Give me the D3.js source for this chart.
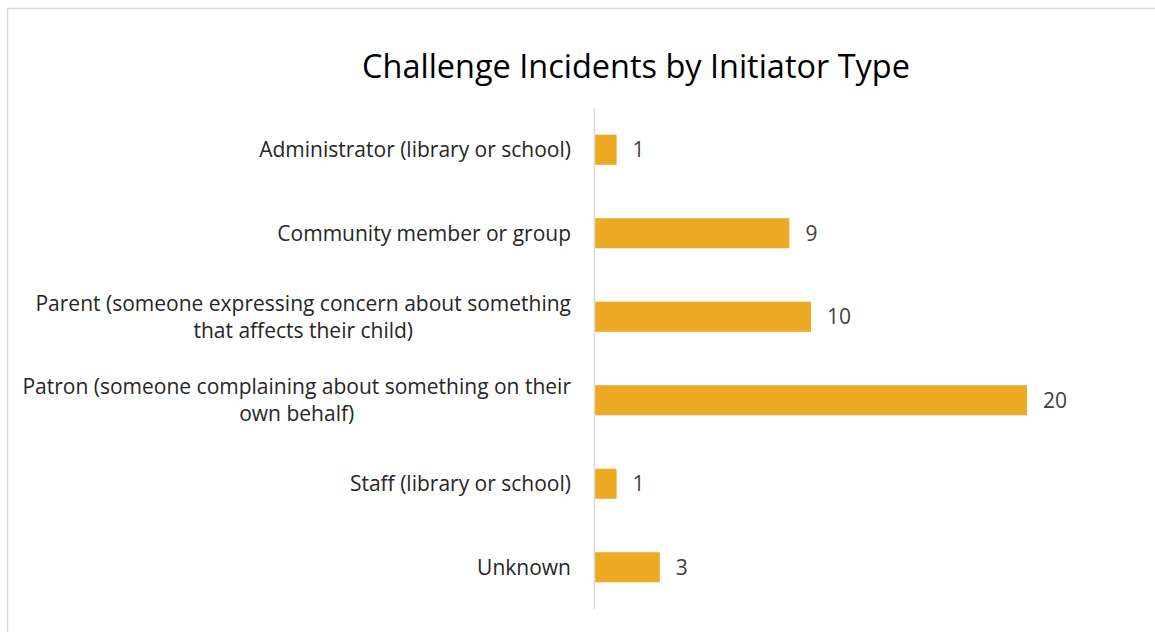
<!DOCTYPE html>
<html>
<head>
<meta charset="utf-8">
<script src="https://cdn.jsdelivr.net/npm/d3@7"></script>
<style>
  body { margin: 0; background: #fff; }
  svg { display: block; font-family: "Open Sans", "Noto Sans", sans-serif; }
</style>
</head>
<body>
<div id="chart"></div>
<script>
// chart data
const title = 'Challenge Incidents by Initiator Type';
const categories = [
  'Administrator (library or school)',
  'Community member or group',
  'Parent (someone expressing concern about something that affects their child)',
  'Patron (someone complaining about something on their own behalf)',
  'Staff (library or school)',
  'Unknown'
];
const counts = [1, 9, 10, 20, 1, 3];

const width = 1155;
const height = 632;
const margin = { top: 108, right: 128, bottom: 23, left: 595 };

const svg = d3.select('#chart').append('svg')
  .attr('width', width)
  .attr('height', height);

// pick a font size so a sample string comes out at the wanted width
function fitSize(str, target, base) {
  const t = svg.append('text').attr('font-size', base).text(str);
  const w = t.node().getComputedTextLength();
  t.remove();
  return base * target / w;
}
const labelSize = fitSize(categories[0], 312, 19);
const titleSize = fitSize(title, 548, 30);

// chart area outline (left + top edges visible)
svg.append('rect')
  .attr('x', 7.5)
  .attr('y', 8.5)
  .attr('width', width + 20)
  .attr('height', height + 20)
  .attr('fill', 'none')
  .attr('stroke', '#d9d9d9')
  .attr('stroke-width', 1.5);

svg.append('text')
  .attr('x', 636)
  .attr('y', 78)
  .attr('text-anchor', 'middle')
  .attr('font-size', titleSize)
  .attr('fill', '#000')
  .text(title);

const x = d3.scaleLinear()
  .domain([0, 20])
  .range([margin.left, width - margin.right]);

const y = d3.scaleBand()
  .domain(categories)
  .range([margin.top, height - margin.bottom])
  .paddingInner(0.64)
  .paddingOuter(0.32);

const g = svg.append('g');

g.selectAll('.bar')
  .data(categories)
  .enter()
  .append('rect')
  .attr('class', 'bar')
  .attr('x', x(0))
  .attr('y', d => y(d))
  .attr('width', (d, i) => x(counts[i]) - x(0))
  .attr('height', y.bandwidth())
  .attr('fill', '#ecaa24');

// vertical axis line
g.append('line')
  .attr('x1', x(0) - 0.5)
  .attr('x2', x(0) - 0.5)
  .attr('y1', margin.top)
  .attr('y2', height - margin.bottom)
  .attr('stroke', '#d9d9d9')
  .attr('stroke-width', 1.5);

// value labels
g.selectAll('.val')
  .data(categories)
  .enter()
  .append('text')
  .attr('class', 'val')
  .attr('x', (d, i) => x(counts[i]) + 16)
  .attr('y', d => y(d) + y.bandwidth() / 2)
  .attr('dy', '0.35em')
  .attr('font-size', labelSize)
  .attr('fill', '#404040')
  .text((d, i) => counts[i]);

// category labels, wrapped and centred as a block
const labelRight = 571;
const maxWidth = 552;
const lineH = 27;

const labels = g.selectAll('.cat')
  .data(categories)
  .enter()
  .append('text')
  .attr('class', 'cat')
  .attr('font-size', labelSize)
  .attr('fill', '#262626');

labels.each(function(d) {
  const t = d3.select(this);
  const words = d.split(' ');
  const lines = [];
  let cur = [];
  const probe = t.append('tspan');
  words.forEach(w => {
    cur.push(w);
    probe.text(cur.join(' '));
    if (probe.node().getComputedTextLength() > maxWidth && cur.length > 1) {
      cur.pop();
      lines.push(cur.join(' '));
      cur = [w];
    }
  });
  lines.push(cur.join(' '));
  probe.remove();

  const widths = lines.map(l => {
    const s = t.append('tspan').text(l);
    const w = s.node().getComputedTextLength();
    s.remove();
    return w;
  });
  const blockW = d3.max(widths);
  const cx = labelRight - blockW / 2;
  const cy = y(d) + y.bandwidth() / 2;
  lines.forEach((l, i) => {
    t.append('tspan')
      .attr('x', cx)
      .attr('y', cy + (i - (lines.length - 1) / 2) * lineH)
      .attr('dy', '0.35em')
      .attr('text-anchor', 'middle')
      .text(l);
  });
});
</script>
</body>
</html>
